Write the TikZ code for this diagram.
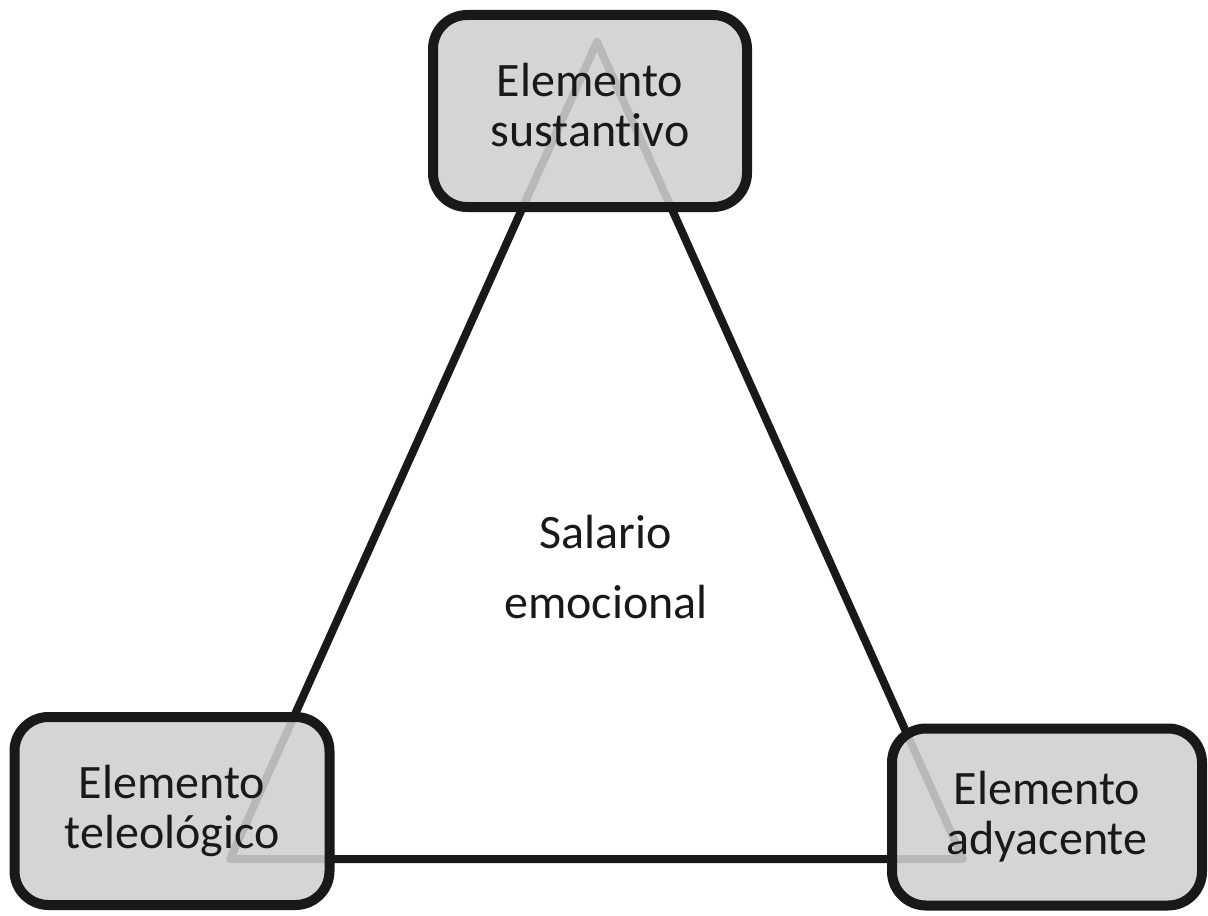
\documentclass[tikz,border=0pt]{standalone}
\usepackage{fontspec}
\setmainfont{Carlito}[Ligatures=NoCommon]
\begin{document}
\begin{tikzpicture}[x=0.5pt, y=-0.5pt,
	elemento/.style={rectangle, rounded corners=17pt, draw=black!90, line width=5pt, fill=black!19, fill opacity=0.88, text opacity=1, align=center, text=black!90, font=\fontsize{24}{25}\selectfont},
	lado/.style={line width=4pt, draw=black!90, line join=round}]
	\useasboundingbox (0,0) rectangle (1208,915);
	% vertices of the triangle
	\coordinate (apex) at (597,42);
	\coordinate (leftEnd) at (230,859);
	\coordinate (rightEnd) at (963,859);
	\draw[lado] (apex) -- (leftEnd) -- (rightEnd) -- cycle;
	\node[elemento, minimum width=157pt, minimum height=96pt, text depth=6pt](sustantivo) at (590,111){Elemento\\sustantivo};
	\node[elemento, minimum width=157.5pt, minimum height=94pt](teleologico) at (172,811){Elemento\\teleológico};
	\node[elemento, minimum width=155pt, minimum height=88.5pt](adyacente) at (1047,817){Elemento\\adyacente};
	\node[align=center, text=black!90, font=\fontsize{24}{35}\selectfont](salario) at (606,567){Salario\\emocional};
\end{tikzpicture}
\end{document}
